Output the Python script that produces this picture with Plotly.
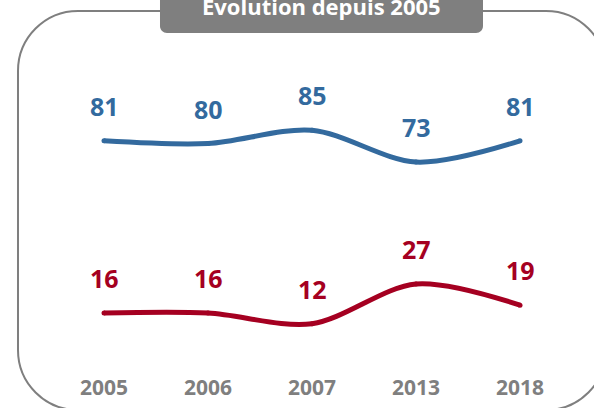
import plotly.graph_objects as go

years = ["2005", "2006", "2007", "2013", "2018"]
blue_values = [81, 80, 85, 73, 81]
red_values = [16, 16, 12, 27, 19]
title_text = "Évolution depuis 2005"

W, H = 594, 408
BLUE = "#336a9e"
RED = "#a50021"
GRAY = "#7f7f7f"


def px(x, y):
    return x / W, 1 - y / H


def rounded_rect_path(x0, y0, x1, y1, r):
    k = 0.5523 * r
    def P(x, y):
        a, b = px(x, y)
        return f"{a:.5f},{b:.5f}"
    d = f"M {P(x0 + r, y0)} L {P(x1 - r, y0)} "
    d += f"C {P(x1 - r + k, y0)} {P(x1, y0 + r - k)} {P(x1, y0 + r)} "
    d += f"L {P(x1, y1 - r)} "
    d += f"C {P(x1, y1 - r + k)} {P(x1 - r + k, y1)} {P(x1 - r, y1)} "
    d += f"L {P(x0 + r, y1)} "
    d += f"C {P(x0 + r - k, y1)} {P(x0, y1 - r + k)} {P(x0, y1 - r)} "
    d += f"L {P(x0, y0 + r)} "
    d += f"C {P(x0, y0 + r - k)} {P(x0 + r - k, y0)} {P(x0 + r, y0)} Z"
    return d


fig = go.Figure()
for vals, col in [(blue_values, BLUE), (red_values, RED)]:
    fig.add_trace(go.Scatter(
        x=years, y=vals, mode="lines+markers",
        line=dict(color=col, width=5, shape="spline", smoothing=0.9),
        marker=dict(color=col, size=5),
        hoverinfo="skip", showlegend=False,
    ))

annotations = []
for vals, col in [(blue_values, BLUE), (red_values, RED)]:
    for i, v in enumerate(vals):
        annotations.append(dict(
            x=i, y=v, xref="x", yref="y", text=f"<b>{v}</b>",
            showarrow=False, yshift=35, yanchor="middle",
            font=dict(family="Open Sans", size=25, color=col),
        ))
for i, yr in enumerate(years):
    annotations.append(dict(
        x=i, y=px(0, 387)[1], xref="x", yref="paper", text=f"<b>{yr}</b>",
        showarrow=False, yanchor="middle",
        font=dict(family="Open Sans", size=21, color=GRAY),
    ))
annotations.append(dict(
    x=px(321, 0)[0], y=px(0, 6)[1], xref="paper", yref="paper",
    text=f"<b>{title_text}</b>", showarrow=False, yanchor="middle",
    font=dict(family="Open Sans", size=22, color="white"),
))

shapes = [
    dict(type="path", xref="paper", yref="paper",
         path=rounded_rect_path(18, 11, 606, 410, 60),
         line=dict(color=GRAY, width=2), fillcolor="rgba(0,0,0,0)", layer="below"),
    dict(type="path", xref="paper", yref="paper",
         path=rounded_rect_path(160, -12, 483, 33, 7),
         line=dict(width=0), fillcolor=GRAY, layer="below"),
]

fig.update_layout(
    width=W, height=H,
    margin=dict(l=0, r=0, t=0, b=0),
    paper_bgcolor="white", plot_bgcolor="rgba(0,0,0,0)",
    xaxis=dict(type="category", range=[-1, W / 104 - 1], visible=False, fixedrange=True),
    yaxis=dict(range=[(355.5 - H) / 2.65, 355.5 / 2.65], visible=False, fixedrange=True),
    annotations=annotations, shapes=shapes,
)

fig.write_html(
    "out.html",
    config={"displayModeBar": False, "staticPlot": True},
    post_script="document.body.style.margin='0';document.body.style.overflow='hidden';",
)
